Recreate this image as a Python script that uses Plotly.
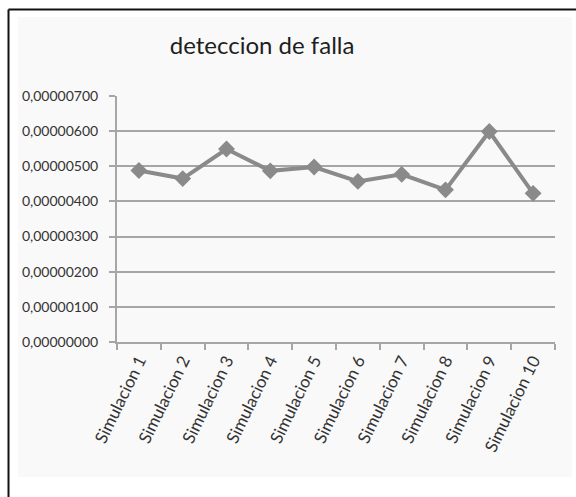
import plotly.graph_objects as go

# values
simulaciones = ["Simulacion 1", "Simulacion 2", "Simulacion 3", "Simulacion 4", "Simulacion 5",
                "Simulacion 6", "Simulacion 7", "Simulacion 8", "Simulacion 9", "Simulacion 10"]
deteccion = [0.00000488, 0.00000465, 0.00000549, 0.00000487, 0.00000498,
             0.00000457, 0.00000477, 0.00000433, 0.00000599, 0.00000423]
y_ticks = [0, 0.000001, 0.000002, 0.000003, 0.000004, 0.000005, 0.000006, 0.000007]

LINE_GRAY = "#8a8a8a"
GRID_GRAY = "#a6a6a6"
TEXT = "#333333"
AREA_BG = "#f9f9f9"
FONT = "Lato, Open Sans, sans-serif"

fig = go.Figure(go.Scatter(
    x=simulaciones, y=deteccion,
    mode="lines+markers",
    line=dict(color=LINE_GRAY, width=4),
    marker=dict(symbol="diamond", size=13, color=LINE_GRAY),
    showlegend=False,
))

fig.update_layout(
    width=576, height=497,
    margin=dict(l=117, r=21, t=96, b=155),
    paper_bgcolor="white",
    plot_bgcolor=AREA_BG,
    separators=",.",
    font=dict(family=FONT, color=TEXT, size=14),
    title=dict(text="deteccion de falla", x=0.455, xanchor="center", y=0.909, yanchor="middle",
               font=dict(family=FONT, size=24, color="#1e1e1e")),
    xaxis=dict(
        type="category", showgrid=False, showline=True, linecolor=GRID_GRAY, linewidth=2,
        ticks="outside", tickson="boundaries", ticklen=6, tickcolor=GRID_GRAY, tickwidth=1.5,
        tickangle=-64, tickfont=dict(size=17, color=TEXT), range=[-0.5, 9.5],
    ),
    yaxis=dict(
        range=[0, 0.000007], tickvals=y_ticks, tickformat=".8f",
        showgrid=True, gridcolor=GRID_GRAY, gridwidth=2, zeroline=False,
        showline=True, linecolor=GRID_GRAY, linewidth=2,
        ticks="outside", ticklen=6, tickcolor=GRID_GRAY, tickwidth=1.5,
        ticklabelstandoff=8, tickfont=dict(size=14, color=TEXT),
    ),
    shapes=[
        # light chart area behind everything
        dict(type="rect", xref="paper", yref="paper", x0=-0.226, x1=1.039, y0=-0.549, y1=1.321,
             fillcolor=AREA_BG, line=dict(width=0), layer="below"),
        # page frame: only the left and top edges show
        dict(type="line", xref="paper", yref="paper", x0=-0.2477, x1=-0.2477, y0=-0.7, y1=1.3516,
             line=dict(color="#111111", width=2)),
        dict(type="line", xref="paper", yref="paper", x0=-0.2477, x1=1.1, y0=1.3516, y1=1.3516,
             line=dict(color="#111111", width=2)),
    ],
)

# drop the default body margin so the 576x497 figure fills the window exactly
fig.write_html("out.html", config={"displayModeBar": False},
               post_script="document.body.style.margin='0';")
